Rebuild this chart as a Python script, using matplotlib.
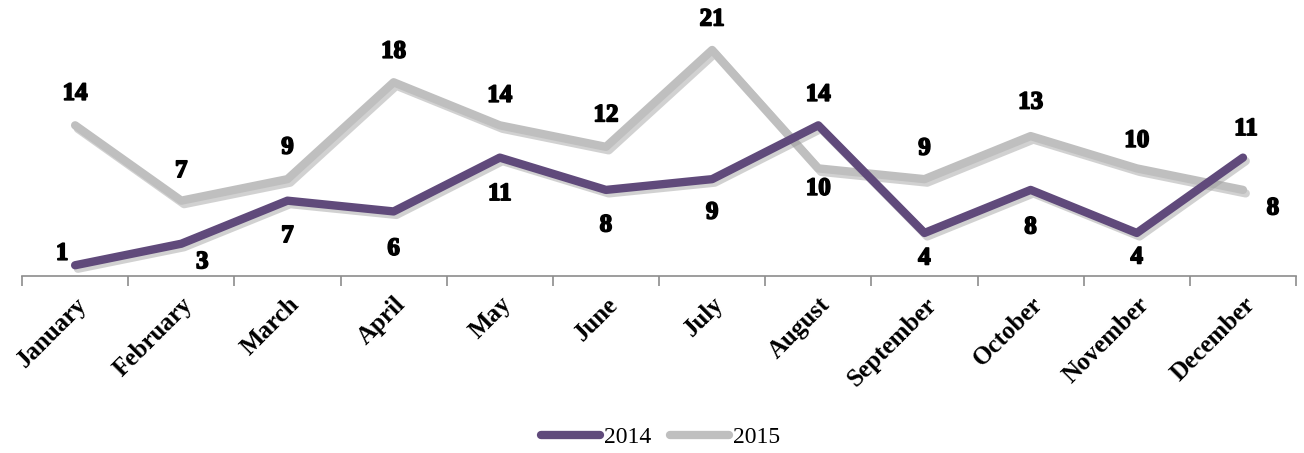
import matplotlib
matplotlib.use("Agg")
import matplotlib.pyplot as plt
import matplotlib.patheffects as pe
import numpy as np

months = ["January", "February", "March", "April", "May", "June", "July",
          "August", "September", "October", "November", "December"]
y2014 = [1, 3, 7, 6, 11, 8, 9, 14, 4, 8, 4, 11]
y2015 = [14, 7, 9, 18, 14, 12, 21, 10, 9, 13, 10, 8]

# label offsets in pixels (dx, dy) per point
off2014 = [(-13, 12), (21, -18), (0, -35), (0, -37), (0, -36), (0, -35),
           (0, -33), (0, 31), (0, -25), (0, -37), (0, -24), (3, 29)]
off2015 = [(0, 32), (0, 30), (0, 32), (0, 31), (0, 30), (0, 32),
           (0, 31), (0, -20), (0, 31), (0, 34), (0, 28), (30, -18)]

c14 = "#604a7b"
c15 = "#bfbfbf"

fig = plt.figure(figsize=(13.04, 4.53), dpi=100)
ax = fig.add_axes([0.0169, 0.3907, 0.977, 0.594])
x = np.arange(len(months))
shadow = [pe.SimpleLineShadow(offset=(2, -2.5), shadow_color="#9a9a9a", alpha=0.45), pe.Normal()]
l1, = ax.plot(x, y2014, color=c14, lw=6, solid_capstyle="round", solid_joinstyle="round",
              path_effects=shadow, label="2014", zorder=3)
l2, = ax.plot(x, y2015, color=c15, lw=6, solid_capstyle="round", solid_joinstyle="round",
              path_effects=shadow, label="2015", zorder=2)

lab_fx = [pe.withStroke(linewidth=1.2, foreground="black")]
for xs, ys, offs in [(x, y2014, off2014), (x, y2015, off2015)]:
    for xi, yi, (dx, dy) in zip(xs, ys, offs):
        ax.annotate(str(yi), (xi, yi), xytext=(dx, dy), textcoords="offset pixels",
                    ha="center", va="center", fontsize=18, fontweight="bold",
                    family="Liberation Serif", color="black", path_effects=lab_fx,
                    zorder=5, annotation_clip=False)

ax.set_xlim(-0.5, len(months) - 0.5)
ax.set_ylim(0, 25)
for s in ["top", "right", "left"]:
    ax.spines[s].set_visible(False)
ax.spines["bottom"].set_color("#8c8c8c")
ax.spines["bottom"].set_linewidth(1.2)
ax.set_yticks([])
ax.set_xticks(np.arange(-0.5, len(months), 1.0))
ax.set_xticklabels([])
ax.tick_params(axis="x", which="major", length=7, color="#8c8c8c", width=1.2)
ax.set_xticks(x, minor=True)
ax.set_xticklabels(months, minor=True, rotation=45, ha="right", va="top",
                   rotation_mode="anchor", fontsize=18, family="Liberation Serif",
                   fontweight="bold")
ax.tick_params(axis="x", which="minor", length=0, pad=12)

leg = fig.legend(handles=[l1, l2], loc="center", bbox_to_anchor=(0.5065, 0.035),
                 ncol=2, frameon=False, prop={"family": "Liberation Serif", "size": 17},
                 handlelength=2.5, handletextpad=0.15, columnspacing=0.8)
for h in leg.legend_handles:
    h.set_path_effects([])

fig.savefig("out.png", dpi=100)
